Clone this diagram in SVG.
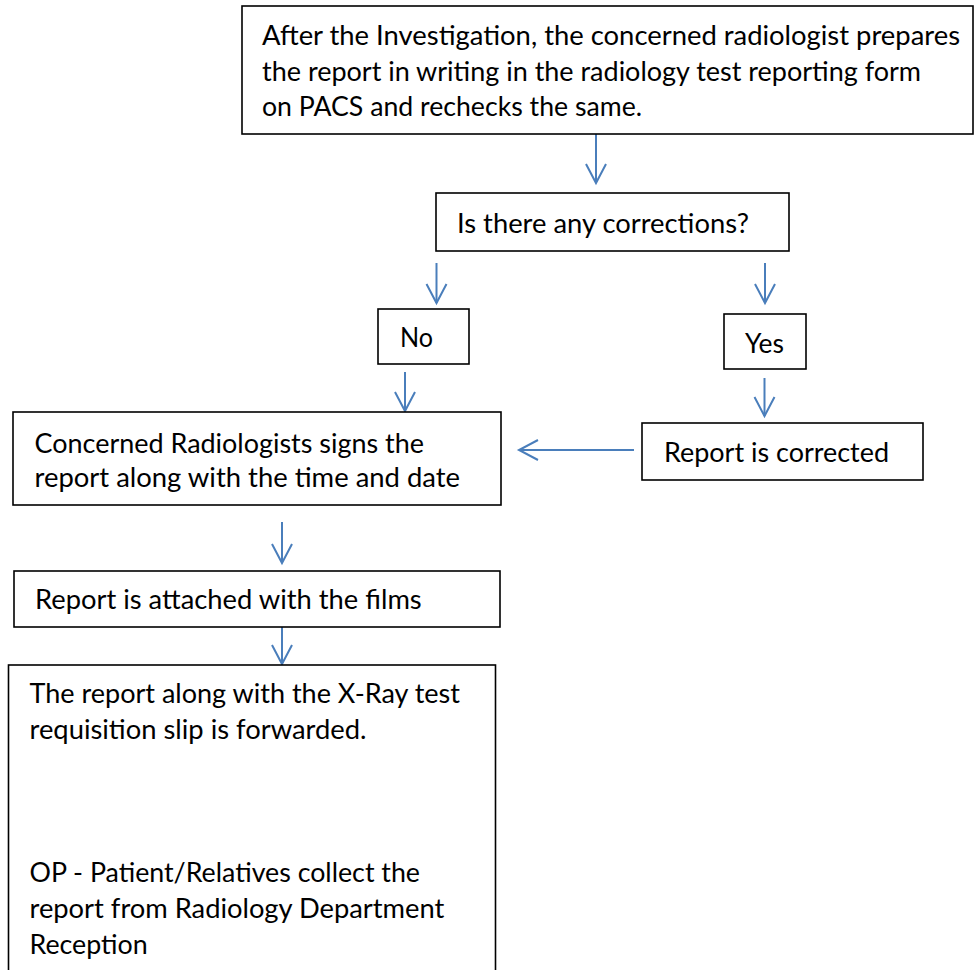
<svg xmlns="http://www.w3.org/2000/svg" width="979" height="970" viewBox="0 0 979 970">
  <style>
    .box { fill: #ffffff; stroke: #000000; stroke-width: 1.6; }
    .t { font-family: Lato, "Liberation Sans", Arial, sans-serif; font-size: 26px; fill: #000000; }
    .conn { fill: none; stroke: #4a7ebb; stroke-width: 2; marker-end: url(#arrow); }
  </style>
  <defs>
    <marker id="arrow" markerUnits="userSpaceOnUse" markerWidth="24" markerHeight="24" viewBox="-21 -12 24 24" refX="0" refY="0" orient="auto" overflow="visible">
      <path d="M -19 -10 L 0 0 L -19 10" fill="none" stroke="#4a7ebb" stroke-width="2"/>
    </marker>
  </defs>
  <rect width="979" height="970" fill="#ffffff"/>

  <g id="connectors">
    <line class="conn" x1="596" y1="134" x2="596" y2="183"/>
    <line class="conn" x1="436.5" y1="263" x2="436.5" y2="303"/>
    <line class="conn" x1="765" y1="263" x2="765" y2="303"/>
    <line class="conn" x1="405" y1="372" x2="405" y2="411"/>
    <line class="conn" x1="764.5" y1="378" x2="764.5" y2="416"/>
    <line class="conn" x1="634" y1="450" x2="519" y2="450"/>
    <line class="conn" x1="282" y1="522" x2="282" y2="563"/>
    <line class="conn" x1="282" y1="627" x2="282" y2="664"/>
  </g>

  <g id="node-prepare">
    <rect class="box" x="242" y="6" width="731" height="128"/>
    <text class="t" x="262" y="45" textLength="698" lengthAdjust="spacingAndGlyphs">After the Investigation, the concerned radiologist prepares</text>
    <text class="t" x="262" y="80.5" textLength="659" lengthAdjust="spacingAndGlyphs">the report in writing in the radiology test reporting form</text>
    <text class="t" x="262" y="116" textLength="380" lengthAdjust="spacingAndGlyphs">on PACS and rechecks the same.</text>
  </g>

  <g id="node-question">
    <rect class="box" x="436" y="193" width="353" height="58"/>
    <text class="t" x="457" y="233" textLength="292" lengthAdjust="spacingAndGlyphs">Is there any corrections?</text>
  </g>

  <g id="node-no">
    <rect class="box" x="378" y="309" width="91" height="55"/>
    <text class="t" x="400" y="347" textLength="33" lengthAdjust="spacingAndGlyphs">No</text>
  </g>

  <g id="node-yes">
    <rect class="box" x="724" y="314" width="82" height="55"/>
    <text class="t" x="745" y="352.5" textLength="39" lengthAdjust="spacingAndGlyphs">Yes</text>
  </g>

  <g id="node-signs">
    <rect class="box" x="13" y="412" width="488" height="93"/>
    <text class="t" x="34.5" y="453" textLength="389.5" lengthAdjust="spacingAndGlyphs">Concerned Radiologists signs the</text>
    <text class="t" x="34.5" y="487" textLength="425.5" lengthAdjust="spacingAndGlyphs">report along with the time and date</text>
  </g>

  <g id="node-corrected">
    <rect class="box" x="642" y="423" width="281" height="57"/>
    <text class="t" x="664" y="462" textLength="225" lengthAdjust="spacingAndGlyphs">Report is corrected</text>
  </g>

  <g id="node-attached">
    <rect class="box" x="14" y="571" width="486" height="56"/>
    <text class="t" x="35" y="609" textLength="386.7" lengthAdjust="spacingAndGlyphs">Report is attached with the films</text>
  </g>

  <g id="node-forwarded">
    <rect class="box" x="8.5" y="665" width="487" height="320"/>
    <text class="t" x="29.5" y="703" textLength="430.5" lengthAdjust="spacingAndGlyphs">The report along with the X-Ray test</text>
    <text class="t" x="29.5" y="739" textLength="337" lengthAdjust="spacingAndGlyphs">requisition slip is forwarded.</text>
    <text class="t" x="29.5" y="882" textLength="390.5" lengthAdjust="spacingAndGlyphs">OP - Patient/Relatives collect the</text>
    <text class="t" x="29.5" y="918" textLength="414.8" lengthAdjust="spacingAndGlyphs">report from Radiology Department</text>
    <text class="t" x="29.5" y="954" textLength="118.2" lengthAdjust="spacingAndGlyphs">Reception</text>
  </g>
</svg>
